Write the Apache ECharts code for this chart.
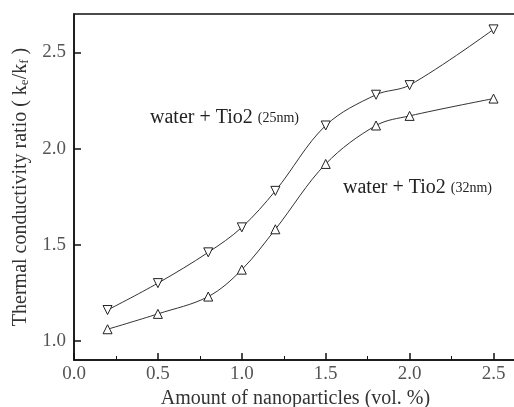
<!DOCTYPE html>
<html>
<head>
<meta charset="utf-8">
<script src="https://cdn.jsdelivr.net/npm/echarts@6/dist/echarts.min.js"></script>
<style>
  html, body { margin: 0; padding: 0; background: #fff; }
  #chart { width: 514px; height: 407px; }
</style>
</head>
<body>
<div id="chart"></div>
<script>
// volume fraction (vol. %)
var volFrac = [0.2, 0.5, 0.8, 1.0, 1.2, 1.5, 1.8, 2.0, 2.5];
// TiO2 25 nm (down triangles)
var tio25 = [1.16, 1.30, 1.46, 1.59, 1.78, 2.12, 2.28, 2.33, 2.62];
// TiO2 32 nm (up triangles)
var tio32 = [1.06, 1.14, 1.23, 1.37, 1.58, 1.92, 2.12, 2.17, 2.26];

var xMajor = [0, 0.5, 1.0, 1.5, 2.0, 2.5];
var xMinor = [0.25, 0.75, 1.25, 1.75, 2.25];
var yMajor = [1.0, 1.5, 2.0, 2.5];

function pairs(xs, ys) {
  return xs.map(function (x, i) { return [x, ys[i]]; });
}

var chart = echarts.init(document.getElementById('chart'));
var font = '"Liberation Serif", "DejaVu Serif", serif';

var option = {
  animation: false,
  backgroundColor: '#fff',
  grid: {
    left: 74, top: 14, right: -3, bottom: 47,
    outerBoundsMode: 'none',
    show: true, borderColor: '#111', borderWidth: 1.5
  },
  xAxis: [{
    type: 'value',
    min: 0, max: 2.64,
    splitLine: { show: false },
    axisLine: { lineStyle: { color: '#111', width: 1.5 } },
    axisTick: { inside: true, length: 7, customValues: xMajor, lineStyle: { color: '#111', width: 1.5 } },
    axisLabel: {
      customValues: xMajor, margin: 5,
      color: '#555', fontFamily: font, fontSize: 19,
      formatter: function (v) { return v.toFixed(1); }
    },
    name: 'Amount of nanoparticles (vol. %)',
    nameLocation: 'middle', nameGap: 27,
    nameTextStyle: { color: '#333', fontFamily: font, fontSize: 20 }
  }, {
    type: 'value',
    position: 'bottom',
    min: 0, max: 2.64,
    splitLine: { show: false },
    axisLine: { show: false },
    axisTick: { inside: true, length: 4, customValues: xMinor, lineStyle: { color: '#111', width: 1 } },
    axisLabel: { show: false }
  }],
  yAxis: {
    type: 'value',
    min: 0.9, max: 2.7,
    splitLine: { show: false },
    axisLine: { lineStyle: { color: '#111', width: 1.5 } },
    axisTick: { inside: true, length: 7, customValues: yMajor, lineStyle: { color: '#111', width: 1.5 } },
    axisLabel: {
      customValues: yMajor, margin: 8,
      color: '#555', fontFamily: font, fontSize: 19,
      formatter: function (v) { return v.toFixed(1); }
    },
    name: 'Thermal conductivity ratio ( k{sub|e}/k{sub|f} )',
    nameLocation: 'middle', nameGap: 40,
    nameTextStyle: {
      color: '#333', fontFamily: font, fontSize: 20,
      rich: {
        sub: { fontFamily: font, fontSize: 13, color: '#333', padding: [8, 0, 0, 0] }
      }
    }
  },
  series: [{
    type: 'line',
    data: pairs(volFrac, tio25),
    smooth: 0.35,
    symbol: 'triangle', symbolRotate: 180, symbolSize: 9,
    lineStyle: { color: '#333', width: 1 },
    itemStyle: { color: '#fff', borderColor: '#222', borderWidth: 1 }
  }, {
    type: 'line',
    data: pairs(volFrac, tio32),
    smooth: 0.35,
    symbol: 'triangle', symbolSize: 9,
    lineStyle: { color: '#333', width: 1 },
    itemStyle: { color: '#fff', borderColor: '#222', borderWidth: 1 }
  }],
  graphic: [{
    type: 'text', left: 150, top: 108,
    style: {
      text: 'water + Tio2 {s|(25nm)}',
      font: '20px ' + font, fill: '#222',
      rich: { s: { fontFamily: font, fontSize: 14, fill: '#222' } }
    }
  }, {
    type: 'text', left: 343, top: 178,
    style: {
      text: 'water + Tio2 {s|(32nm)}',
      font: '20px ' + font, fill: '#222',
      rich: { s: { fontFamily: font, fontSize: 14, fill: '#222' } }
    }
  }]
};

chart.setOption(option);
</script>
</body>
</html>
